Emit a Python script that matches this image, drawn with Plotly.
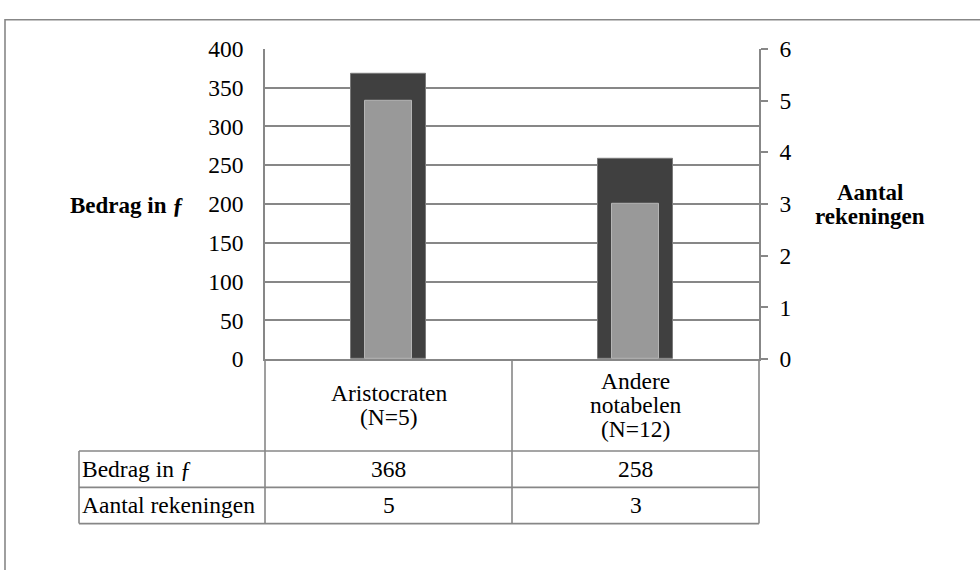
import plotly.graph_objects as go

# ---------------- data ----------------
categories = ["Aristocraten (N=5)", "Andere notabelen (N=12)"]
category_lines = [["Aristocraten", "(N=5)"], ["Andere", "notabelen", "(N=12)"]]
bedrag = [368, 258]          # Bedrag in f (left axis)
aantal = [5, 3]              # Aantal rekeningen (right axis)
row_labels = ["Bedrag in ƒ", "Aantal rekeningen"]
left_ticks = [0, 50, 100, 150, 200, 250, 300, 350, 400]
right_ticks = [0, 1, 2, 3, 4, 5, 6]
left_title = "Bedrag in ƒ"
right_title_lines = ["Aantal", "rekeningen"]

# ---------------- layout helpers (pixel -> paper) ----------------
W, H = 980, 570
def px(x):
    return x / W
def py(y):
    return 1 - y / H

FONT = "Liberation Serif"
FS = 23.5
FS_TITLE = 23
GRAY = "#878787"

plot_l, plot_r, plot_t, plot_b = 265, 759, 37.5, 362.7
mid_x = (plot_l + plot_r) / 2
row_y = [459, 497, 535]
table_l = 79
line_h = 25

xs = list(range(len(categories)))

fig = go.Figure()
fig.add_trace(go.Bar(
    x=xs, y=bedrag, name="Bedrag in ƒ", yaxis="y",
    width=0.304, marker=dict(color="#404040", line=dict(color="#7a7a7a", width=1)),
    hoverinfo="y",
))
fig.add_trace(go.Bar(
    x=xs, y=aantal, name="Aantal rekeningen", yaxis="y2",
    width=0.19, marker=dict(color="#999999", line=dict(color="#b5b5b5", width=1)),
    hoverinfo="y",
))

annotations = []
# axis titles
annotations.append(dict(text="<b>%s</b>" % left_title, x=px(126.5), y=py(202),
                        xref="paper", yref="paper", showarrow=False,
                        xanchor="center", yanchor="middle", font=dict(size=FS_TITLE)))
for k, t in enumerate(right_title_lines):
    annotations.append(dict(text="<b>%s</b>" % t, x=px(870), y=py(188 + k * line_h),
                            xref="paper", yref="paper", showarrow=False,
                            xanchor="center", yanchor="middle", font=dict(size=FS_TITLE)))
# category labels in the table header
hdr_c = (plot_b + row_y[0]) / 2
for i, lines in enumerate(category_lines):
    n = len(lines)
    for k, t in enumerate(lines):
        yy = hdr_c + (k - (n - 1) / 2) * line_h
        annotations.append(dict(text=t, x=xs[i], y=py(yy), xref="x", yref="paper",
                                showarrow=False, xanchor="center", yanchor="middle"))
# table rows
rows = [bedrag, aantal]
for r, (lab, vals) in enumerate(zip(row_labels, rows)):
    top = row_y[r]
    bot = row_y[r + 1]
    yc = (top + bot) / 2
    annotations.append(dict(text=lab, x=px(table_l + 1), y=py(yc), xref="paper", yref="paper",
                            showarrow=False, xanchor="left", yanchor="middle"))
    for i, v in enumerate(vals):
        annotations.append(dict(text=str(v), x=xs[i], y=py(yc), xref="x", yref="paper",
                                showarrow=False, xanchor="center", yanchor="middle"))

shapes = []
def hline(x0, x1, y, w=1.6):
    shapes.append(dict(type="line", xref="paper", yref="paper", x0=px(x0), x1=px(x1),
                       y0=py(y), y1=py(y), line=dict(color=GRAY, width=w)))
def vline(x, y0, y1, w=1.6):
    shapes.append(dict(type="line", xref="paper", yref="paper", x0=px(x), x1=px(x),
                       y0=py(y0), y1=py(y1), line=dict(color=GRAY, width=w)))

# outer chart border (cropped at right and bottom)
shapes.append(dict(type="rect", xref="paper", yref="paper", x0=px(5), x1=px(W + 20),
                   y0=py(H + 20), y1=py(7), line=dict(color=GRAY, width=1.6),
                   fillcolor="rgba(0,0,0,0)"))
# table grid
for yv in row_y:
    hline(table_l, plot_r, yv)
vline(plot_l, plot_b, row_y[-1])
vline(mid_x, plot_b, row_y[-1])
vline(plot_r, plot_b, row_y[-1])
vline(table_l, row_y[0], row_y[-1])

fig.update_layout(
    width=W, height=H,
    margin=dict(l=0, r=0, t=0, b=0),
    paper_bgcolor="white", plot_bgcolor="white",
    font=dict(family=FONT, size=FS, color="black"),
    barmode="overlay", bargap=0,
    showlegend=False,
    xaxis=dict(domain=[px(plot_l), px(plot_r)], range=[-0.5, len(categories) - 0.5],
               showticklabels=False, ticks="", showgrid=False, zeroline=False,
               showline=True, linecolor=GRAY, linewidth=1.6, fixedrange=True),
    yaxis=dict(domain=[py(plot_b), py(plot_t)], range=[0, 400], tickvals=left_ticks,
               showgrid=True, gridcolor=GRAY, gridwidth=1.6, zeroline=False,
               showline=True, linecolor=GRAY, linewidth=1.6, ticks="",
               ticklabelstandoff=15, tickfont=dict(size=FS), fixedrange=True),
    yaxis2=dict(overlaying="y", side="right", anchor="x", range=[0, 6], tickvals=right_ticks,
                showgrid=False, zeroline=False, showline=True, linecolor=GRAY, linewidth=1.6,
                ticks="outside", ticklen=7, tickwidth=1.6, tickcolor=GRAY,
                ticklabelstandoff=7, tickfont=dict(size=FS), fixedrange=True),
    annotations=annotations,
    shapes=shapes,
)

post = ("document.documentElement.style.margin='0px';document.documentElement.style.overflow='hidden';"
        "document.body.style.margin='0px';document.body.style.padding='0px';"
        "var d=document.getElementById('{plot_id}');"
        "d.style.position='absolute';d.style.left='0px';d.style.top='0px';")
fig.write_html("out.html", config={"displayModeBar": False}, post_script=post)
